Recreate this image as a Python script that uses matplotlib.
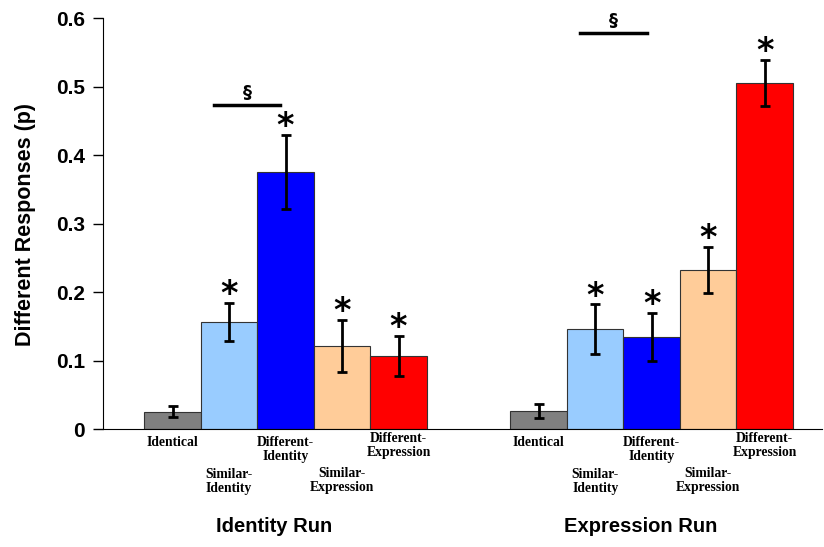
import matplotlib.pyplot as plt

# Data
conditions = ['Identical', 'Similar-\nIdentity', 'Different-\nIdentity',
              'Similar-\nExpression', 'Different-\nExpression']
runs = ['Identity Run', 'Expression Run']
identity_run = [0.025, 0.156, 0.375, 0.121, 0.107]
identity_err = [0.008, 0.028, 0.054, 0.038, 0.029]
expression_run = [0.026, 0.146, 0.134, 0.232, 0.505]
expression_err = [0.010, 0.036, 0.035, 0.034, 0.034]
significant = [False, True, True, True, True]
colors = ['#808080', '#99CCFF', '#0000FF', '#FFCC99', '#FF0000']
label_y = [-0.019, -0.077, -0.030, -0.075, -0.024]

fig = plt.figure(figsize=(8.24, 5.47), dpi=100)
ax = fig.add_axes([0.125, 0.2157, 0.873, 0.7513])

group_offset = 6.48
for g, (vals, errs) in enumerate([(identity_run, identity_err),
                                  (expression_run, expression_err)]):
    xs = [g * group_offset + i for i in range(len(vals))]
    ax.bar(xs, vals, width=1.0, color=colors, edgecolor='#333333', linewidth=0.8)
    ax.errorbar(xs, vals, yerr=errs, fmt='none', ecolor='black',
                elinewidth=2, capsize=3.3, capthick=2)
    for x, v, e, s in zip(xs, vals, errs, significant):
        if s:
            ax.text(x, v + e - 0.012, '*', ha='center', va='bottom',
                    fontsize=24, fontweight='bold')
    for x, lab, ly in zip(xs, conditions, label_y):
        ax.text(x, ly, lab, ha='center', va='center', fontsize=9.8,
                fontweight='bold', family='Liberation Serif',
                linespacing=1.1, clip_on=False)
    ax.text(xs[2] - 0.2, -0.143, runs[g], ha='center', va='center',
            fontsize=14.5, fontweight='bold', family='Liberation Sans',
            clip_on=False)

# comparison bars (section sign)
ax.plot([0.74, 1.91], [0.473, 0.473], color='black', lw=2.5)
ax.text(1.32, 0.478, '§', ha='center', va='bottom', fontsize=13, fontweight='bold')
ax.plot([0.74 + group_offset, 1.91 + group_offset], [0.578, 0.578], color='black', lw=2.5)
ax.text(1.32 + group_offset, 0.583, '§', ha='center', va='bottom', fontsize=13,
        fontweight='bold')

ax.set_xlim(-1.23, 11.5)
ax.set_ylim(0, 0.6)
ax.set_yticks([0, 0.1, 0.2, 0.3, 0.4, 0.5, 0.6])
ax.set_yticklabels(['0', '0.1', '0.2', '0.3', '0.4', '0.5', '0.6'],
                   fontsize=15, fontweight='bold', family='Liberation Sans')
ax.set_xticks([])
ax.tick_params(axis='y', direction='out', length=7, width=1, pad=6)
ax.spines['top'].set_visible(False)
ax.spines['right'].set_visible(False)
fig.text(26 / 824, 0.589, 'Different Responses (p)', rotation=90, ha='center',
         va='center', fontsize=15.5, fontweight='bold', family='Liberation Sans')

fig.savefig('out.png', dpi=100)
